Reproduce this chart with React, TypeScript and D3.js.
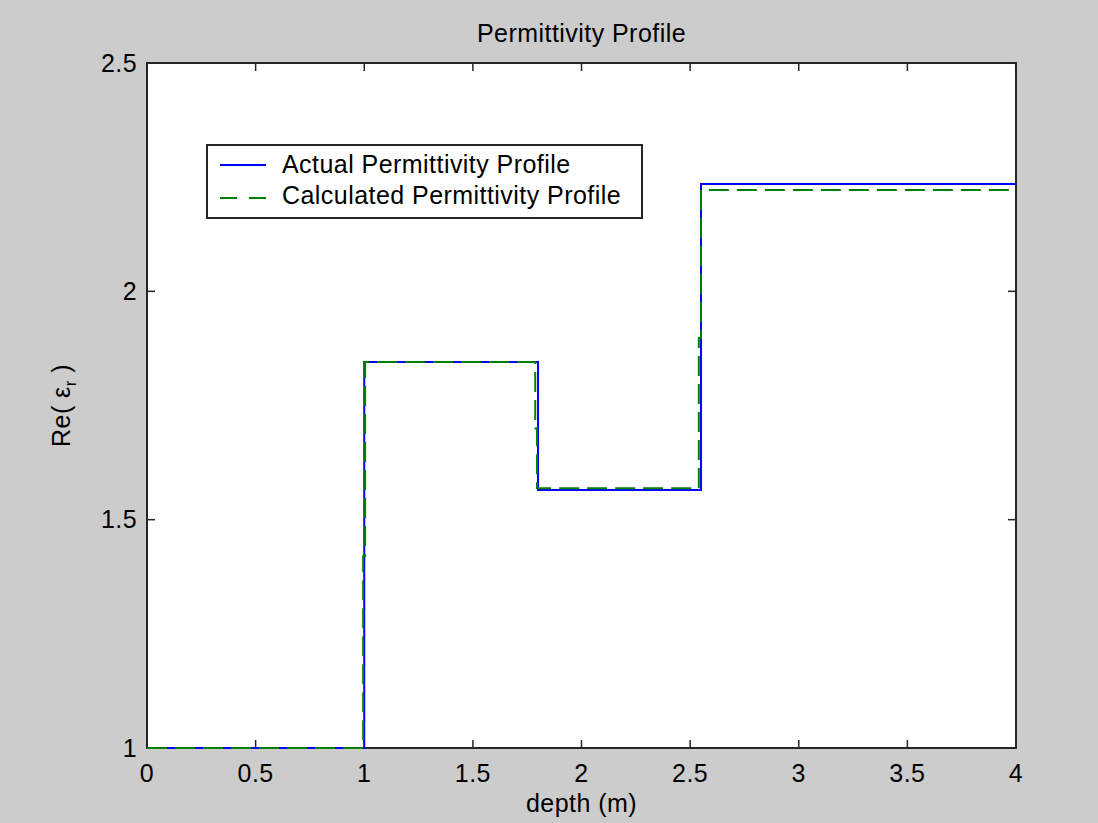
import React from "react";
import * as d3 from "d3";

const xTicks = [0, 0.5, 1, 1.5, 2, 2.5, 3, 3.5, 4];
const yTicks = [1, 1.5, 2, 2.5];

const actualDepth = [0, 1.0, 1.0, 1.8, 1.8, 2.55, 2.55, 4];
const actualValue = [1, 1, 1.845, 1.845, 1.565, 1.565, 2.235, 2.235];

const calcDepth = [0, 0.995, 0.995, 1.004, 1.004, 1.787, 1.787, 1.795, 1.795, 2.54, 2.54, 2.55, 2.55, 4];
const calcValue = [1, 1, 1.42, 1.42, 1.845, 1.845, 1.70, 1.70, 1.569, 1.569, 1.898, 1.898, 2.222, 2.222];

const seriesNames = ["Actual Permittivity Profile", "Calculated Permittivity Profile"];

const W = 1098, H = 823;
const L = 147, R = 1016, T = 63, B = 748;
const FONT = "'Liberation Sans', Arial, sans-serif";
const AX = "#262626";

export default function App() {
  const x = d3.scaleLinear().domain([0, 4]).range([L, R]);
  const y = d3.scaleLinear().domain([1, 2.5]).range([B, T]);
  const line = d3.line<[number, number]>().x(d => x(d[0])).y(d => y(d[1]));
  const actual = line(actualDepth.map((d, i) => [d, actualValue[i]]) as [number, number][]) || "";
  const calc = line(calcDepth.map((d, i) => [d, calcValue[i]]) as [number, number][]) || "";
  const fs = 25;
  const ls = 0.45;
  return (
    <svg width={W} height={H} style={{ position: "absolute", left: 0, top: 0, display: "block" }} fontFamily={FONT}>
      <rect x={0} y={0} width={W} height={H} fill="#cccccc" />
      <rect x={L} y={T} width={R - L} height={B - T} fill="#ffffff" />
      {/* axes box */}
      <rect x={L} y={T} width={R - L} height={B - T} fill="none" stroke={AX} strokeWidth={2} />
      {xTicks.map(t => (
        <g key={"x" + t}>
          <line x1={x(t)} x2={x(t)} y1={B} y2={B - 8} stroke={AX} strokeWidth={1.5} />
          <line x1={x(t)} x2={x(t)} y1={T} y2={T + 8} stroke={AX} strokeWidth={1.5} />
          <text x={x(t)} y={782} textAnchor="middle" fontSize={fs} letterSpacing={ls} fill="#000">{String(t)}</text>
        </g>
      ))}
      {yTicks.map(t => (
        <g key={"y" + t}>
          <line x1={L} x2={L + 8} y1={y(t)} y2={y(t)} stroke={AX} strokeWidth={1.5} />
          <line x1={R} x2={R - 8} y1={y(t)} y2={y(t)} stroke={AX} strokeWidth={1.5} />
          <text x={137} y={y(t)} dy="0.35em" textAnchor="end" fontSize={fs} letterSpacing={ls} fill="#000">{String(t)}</text>
        </g>
      ))}
      <path d={actual} fill="none" stroke="#0000ff" strokeWidth={2} />
      <path d={calc} fill="none" stroke="#008000" strokeWidth={2} strokeDasharray="20,8" />
      <text x={(L + R) / 2} y={42} textAnchor="middle" fontSize={fs} letterSpacing={ls} fill="#000">Permittivity Profile</text>
      <text x={(L + R) / 2} y={812} textAnchor="middle" fontSize={fs} letterSpacing={ls} fill="#000">depth (m)</text>
      <text transform={`translate(70,${(T + B) / 2}) rotate(-90)`} textAnchor="middle" fontSize={fs} letterSpacing={ls} fill="#000">
        Re( ε<tspan fontSize={17} dy={6}>r</tspan><tspan dy={-6}> )</tspan>
      </text>
      {/* legend */}
      <rect x={207} y={145} width={435} height={73} fill="#ffffff" stroke={AX} strokeWidth={2} />
      <line x1={220} x2={266} y1={165} y2={165} stroke="#0000ff" strokeWidth={2} />
      <line x1={220} x2={266} y1={198} y2={198} stroke="#008000" strokeWidth={2} strokeDasharray="17,12" />
      <text x={282} y={173} fontSize={fs} letterSpacing={ls} fill="#000">{seriesNames[0]}</text>
      <text x={282} y={204} fontSize={fs} letterSpacing={ls} fill="#000">{seriesNames[1]}</text>
    </svg>
  );
}
